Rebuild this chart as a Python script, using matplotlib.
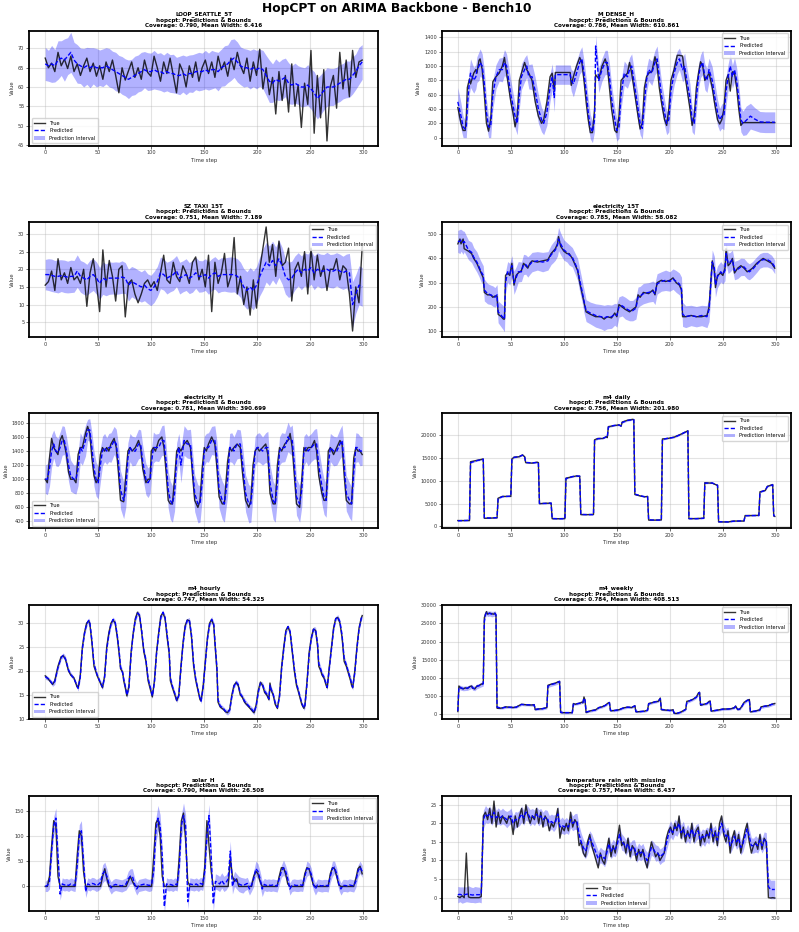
import numpy as np
import matplotlib
matplotlib.use("Agg")
import matplotlib.pyplot as plt
from matplotlib.ticker import MultipleLocator
from matplotlib.lines import Line2D
from matplotlib.patches import Patch

# ---------------- data ----------------
# LOOP_SEATTLE_5T (100 samples over steps 0..299)
loop_true = [67.5, 65.0, 66.2, 64.0, 69.0, 65.5, 67.2, 64.8, 68.0, 64.0,
             66.0, 63.0, 65.5, 67.5, 64.0, 66.2, 62.8, 65.5, 62.0, 66.5,
             64.0, 67.0, 63.0, 58.5, 65.0, 61.8, 64.2, 66.5, 62.5, 65.0,
             62.0, 67.0, 63.8, 62.8, 68.0, 65.0, 61.5, 66.5, 63.5, 67.5,
             63.0, 58.5, 66.0, 64.0, 60.0, 65.5, 62.5, 66.5, 61.5, 65.0,
             67.0, 63.5, 66.5, 62.5, 68.0, 64.5, 66.5, 62.8, 67.5, 64.5,
             69.0, 65.5, 63.5, 67.5, 61.5, 66.5, 63.0, 69.8, 59.5, 65.0,
             58.0, 62.5, 53.0, 64.0, 56.5, 63.0, 53.5, 66.0, 55.0, 60.5,
             49.5, 61.0, 55.5, 69.5, 48.0, 63.0, 52.0, 64.5, 46.0, 60.0,
             63.0, 54.5, 69.0, 59.5, 67.0, 57.5, 69.5, 62.5, 66.5, 67.0]
loop_pred = [66.0, 65.5, 66.0, 65.5, 67.0, 67.5, 67.0, 68.0, 69.0, 67.0,
             66.0, 65.5, 65.0, 65.5, 65.0, 65.5, 65.0, 65.0, 65.0, 65.5,
             65.0, 64.5, 64.0, 63.5, 63.0, 62.5, 62.0, 62.5, 63.0, 63.5,
             64.0, 64.5, 64.0, 64.0, 64.5, 64.0, 64.0, 63.5, 64.0, 63.5,
             63.5, 63.0, 63.0, 63.5, 63.0, 63.5, 63.5, 64.0, 64.0, 64.0,
             64.5, 64.0, 64.5, 64.5, 64.0, 65.0, 65.5, 66.0, 67.0, 67.5,
             66.5, 65.5, 65.0, 65.0, 64.5, 65.0, 64.5, 65.0, 64.5, 63.0,
             61.5, 61.0, 62.0, 61.5, 62.0, 62.5, 61.0, 60.5, 61.0, 60.5,
             60.0, 60.0, 60.5, 59.5, 58.5, 57.0, 58.0, 59.0, 60.0, 60.0,
             60.0, 60.5, 61.0, 61.5, 62.0, 62.0, 63.0, 64.0, 65.5, 66.5]
loop_hw = [4.3, 4.0, 4.8, 4.2, 5.0, 4.5, 5.5, 4.8, 5.2, 4.6,
           5.0, 4.6, 5.0, 4.8, 5.2, 4.7, 5.0, 4.6, 4.9, 4.7,
           5.0, 4.8, 5.0, 4.7, 4.9, 4.8, 5.0, 4.7, 5.0, 4.8,
           5.0, 4.7, 4.9, 4.8, 5.0, 4.7, 4.9, 4.8, 5.0, 4.9,
           5.0, 4.7, 5.0, 4.8, 5.0, 4.8, 4.9, 4.7, 5.0, 4.8,
           5.0, 4.8, 5.0, 4.7, 5.0, 4.8, 5.2, 4.9, 5.3, 5.0,
           5.2, 4.9, 5.0, 4.8, 5.0, 4.9, 5.0, 4.8, 5.0, 5.2,
           5.5, 5.0, 5.3, 5.0, 5.2, 5.0, 5.3, 5.0, 5.2, 5.0,
           5.2, 5.0, 5.3, 5.2, 5.5, 5.3, 5.2, 5.0, 5.0, 4.8,
           4.8, 4.6, 4.8, 4.6, 4.8, 4.7, 4.8, 4.6, 4.8, 4.5]

# M_DENSE_H
md_t = [0, 3, 5, 7, 8, 9, 11, 12, 15, 17,
        18, 20, 21, 23, 25, 27, 29, 31, 33, 36,
        39, 42, 44, 46, 48, 50, 52, 54, 56, 58,
        60, 63, 65, 67, 70, 73, 76, 79, 81, 84,
        87, 89, 91, 92, 106, 107, 109, 112, 115, 117,
        119, 121, 123, 125, 127, 129, 130, 133, 136, 139,
        141, 143, 145, 148, 150, 152, 154, 157, 160, 162,
        164, 166, 168, 170, 172, 174, 176, 178, 180, 183,
        186, 188, 190, 192, 195, 197, 199, 201, 204, 207,
        209, 212, 214, 216, 219, 221, 223, 225, 227, 229,
        231, 233, 235, 237, 240, 242, 245, 247, 249, 251,
        253, 255, 257, 259, 261, 263, 265, 267, 269, 272,
        276, 280, 285, 290, 295, 299]
md_true = [420, 200, 100, 100, 300, 700, 820, 750, 900, 950,
           900, 1080, 1100, 950, 600, 200, 90, 250, 780, 850,
           900, 1000, 1120, 900, 700, 500, 350, 150, 300, 800,
           900, 1050, 950, 900, 800, 500, 300, 200, 250, 500,
           850, 900, 650, 910, 910, 730, 850, 1000, 1120, 1050,
           800, 500, 250, 70, 70, 400, 880, 820, 1000, 1100,
           1000, 700, 400, 100, 70, 300, 800, 850, 900, 1050,
           900, 700, 500, 300, 120, 200, 700, 850, 900, 920,
           1130, 1000, 700, 500, 250, 170, 400, 800, 950, 1150,
           1150, 1140, 900, 700, 400, 170, 300, 700, 900, 1060,
           1000, 800, 850, 900, 700, 500, 250, 190, 250, 400,
           800, 880, 650, 920, 900, 700, 400, 170, 210, 210,
           210, 210, 210, 210, 210, 210]
md_pred = [500, 300, 150, 120, 150, 450, 800, 900, 800, 850,
           950, 1000, 1050, 1000, 750, 350, 150, 150, 600, 850,
           950, 950, 1050, 1000, 800, 600, 450, 300, 200, 600,
           850, 950, 1000, 850, 850, 650, 400, 250, 200, 350,
           700, 850, 560, 880, 880, 800, 750, 900, 1050, 1100,
           900, 650, 350, 150, 80, 250, 1280, 800, 950, 1050,
           1050, 850, 550, 250, 100, 150, 600, 900, 850, 950,
           1000, 800, 600, 400, 200, 130, 500, 800, 950, 900,
           1050, 1100, 850, 600, 350, 200, 250, 650, 900, 1050,
           1100, 950, 1000, 800, 550, 250, 200, 550, 850, 1000,
           1050, 850, 800, 950, 800, 600, 350, 250, 300, 300,
           650, 850, 1000, 850, 950, 800, 550, 250, 200, 240,
           300, 260, 220, 215, 215, 215]
md_hw = [200, 180, 150, 120, 150, 200, 180, 200, 180, 170,
         180, 200, 190, 170, 200, 190, 150, 150, 200, 170,
         160, 170, 180, 170, 190, 200, 180, 170, 160, 200,
         180, 170, 160, 170, 180, 190, 200, 170, 160, 180,
         190, 180, 200, 135, 135, 150, 180, 170, 160, 170,
         180, 190, 200, 170, 150, 160, 150, 170, 160, 170,
         170, 190, 200, 170, 150, 160, 200, 170, 160, 170,
         170, 180, 190, 200, 160, 150, 200, 170, 160, 170,
         170, 180, 190, 200, 180, 160, 170, 190, 170, 160,
         150, 170, 180, 190, 200, 170, 160, 190, 170, 160,
         170, 180, 170, 160, 190, 200, 180, 160, 170, 190,
         200, 180, 170, 160, 170, 180, 190, 170, 170, 200,
         180, 160, 145, 145, 145, 145]

# SZ_TAXI_15T (100 samples over steps 0..299)
sz_true = [15.5, 16.5, 19.5, 14.0, 23.0, 17.0, 19.0, 16.0, 20.5, 17.0,
           18.0, 16.0, 20.0, 9.5, 19.0, 23.0, 16.0, 8.0, 25.5, 15.0,
           22.5, 18.0, 11.0, 20.0, 21.0, 6.5, 16.0, 17.0, 13.0, 10.5,
           13.0, 16.0, 17.0, 15.0, 16.5, 14.0, 19.0, 24.0, 17.0, 16.0,
           22.0, 18.0, 16.5, 21.0, 19.0, 16.0, 22.0, 23.5, 17.0, 20.0,
           15.0, 24.0, 8.0, 22.0, 16.0, 19.0, 24.5, 15.0, 18.0, 29.0,
           13.0, 18.0, 10.0, 15.0, 7.0, 17.0, 9.0, 20.0, 26.0, 32.0,
           22.0, 27.0, 18.0, 28.0, 21.0, 22.0, 26.0, 11.0, 20.0, 22.0,
           18.0, 25.0, 13.0, 26.0, 17.0, 24.0, 18.0, 21.0, 14.0, 20.0,
           20.0, 23.0, 17.0, 21.0, 20.0, 13.0, 2.5, 15.0, 10.5, 26.5]
sz_pred = [18.5, 18.5, 18.3, 18.0, 18.0, 18.2, 18.0, 17.8, 18.0, 18.0,
           19.5, 18.0, 17.5, 17.0, 18.0, 18.5, 17.5, 16.0, 17.5, 17.0,
           17.5, 17.5, 17.5, 17.5, 17.8, 17.5, 15.5, 16.5, 16.0, 15.5,
           15.0, 15.5, 14.5, 14.0, 15.0, 16.5, 19.0, 18.5, 17.5, 18.0,
           18.5, 19.5, 17.5, 18.0, 18.5, 17.5, 18.0, 19.0, 18.0, 18.0,
           18.5, 17.5, 18.5, 19.0, 18.0, 18.5, 18.5, 18.5, 18.5, 18.5,
           18.0, 17.0, 15.0, 14.0, 15.0, 14.0, 15.5, 18.0, 20.0, 22.0,
           21.0, 22.5, 21.0, 23.0, 21.0, 18.0, 17.0, 17.5, 19.0, 20.0,
           19.0, 20.0, 19.5, 20.5, 19.0, 20.0, 19.5, 19.5, 20.0, 19.5,
           19.5, 20.0, 19.5, 19.0, 19.5, 19.0, 10.0, 13.0, 15.5, 15.0]
sz_hw = [4.3, 4.5, 4.6, 4.5, 4.7, 4.5, 4.6, 4.5, 4.6, 4.5,
         4.6, 4.5, 4.6, 4.4, 4.6, 4.5, 4.6, 4.5, 4.6, 4.5,
         4.6, 4.5, 4.6, 4.5, 4.6, 4.4, 4.5, 4.3, 4.4, 4.3,
         4.3, 4.4, 4.2, 4.3, 4.4, 4.3, 4.5, 4.4, 4.5, 4.4,
         4.5, 4.4, 4.5, 4.4, 4.5, 4.4, 4.5, 4.4, 4.5, 4.4,
         4.5, 4.6, 4.5, 4.6, 4.7, 4.8, 4.7, 4.9, 5.0, 4.9,
         5.0, 5.0, 5.2, 5.3, 5.5, 5.5, 5.3, 5.5, 5.8, 5.6,
         5.6, 5.5, 5.3, 5.3, 5.2, 5.0, 5.0, 4.8, 4.8, 4.7,
         4.8, 4.7, 4.8, 4.7, 4.8, 4.7, 4.8, 4.7, 4.8, 4.7,
         4.8, 4.7, 4.8, 4.7, 4.8, 5.5, 6.5, 5.5, 5.5, 5.5]

# electricity_15T
e15_t = [0, 2, 3, 5, 6, 10, 13, 15, 18, 20,
         22, 24, 25, 28, 31, 33, 35, 37, 38, 41,
         43, 44, 45, 47, 49, 51, 53, 55, 57, 60,
         62, 64, 66, 68, 70, 75, 80, 85, 88, 90,
         92, 94, 95, 97, 100, 103, 105, 108, 110, 113,
         115, 117, 119, 121, 125, 130, 135, 138, 141, 145,
         148, 150, 152, 155, 158, 162, 165, 168, 170, 172,
         175, 180, 184, 186, 188, 192, 196, 200, 203, 206,
         209, 211, 212, 215, 220, 225, 230, 235, 237, 239,
         240, 242, 243, 245, 248, 250, 252, 253, 255, 257,
         259, 261, 264, 267, 270, 273, 275, 278, 282, 285,
         288, 292, 296, 299]
e15_true = [460, 480, 460, 480, 440, 430, 420, 400, 380, 360,
            340, 320, 260, 250, 250, 240, 245, 245, 170, 160,
            150, 150, 330, 340, 330, 380, 290, 330, 340, 350,
            380, 370, 360, 380, 390, 385, 390, 395, 420, 430,
            440, 460, 490, 450, 430, 420, 420, 400, 380, 350,
            300, 260, 220, 180, 170, 160, 160, 150, 160, 155,
            175, 160, 210, 200, 190, 180, 190, 200, 250, 240,
            260, 255, 270, 250, 300, 310, 305, 310, 320, 300,
            290, 270, 160, 160, 165, 160, 160, 165, 200, 330,
            390, 350, 280, 330, 340, 330, 360, 440, 370, 380,
            400, 340, 360, 370, 360, 345, 350, 360, 380, 390,
            400, 390, 380, 360]
e15_pred = [470, 470, 475, 465, 470, 435, 425, 405, 385, 365,
            345, 330, 270, 255, 250, 245, 240, 250, 180, 165,
            155, 150, 300, 345, 335, 370, 300, 320, 345, 345,
            375, 375, 365, 375, 385, 390, 385, 390, 415, 425,
            435, 455, 480, 460, 435, 425, 415, 405, 385, 355,
            310, 270, 225, 185, 175, 165, 160, 155, 160, 160,
            170, 165, 200, 205, 195, 185, 185, 195, 240, 245,
            255, 260, 265, 255, 295, 305, 310, 305, 315, 305,
            295, 275, 170, 160, 165, 160, 165, 160, 190, 320,
            385, 360, 290, 325, 345, 335, 350, 420, 380, 385,
            395, 350, 355, 365, 365, 350, 345, 355, 375, 390,
            395, 395, 385, 365]
e15_hw = [45, 50, 45, 48, 42, 40, 42, 40, 42, 40,
          42, 40, 45, 42, 40, 42, 40, 42, 45, 48,
          50, 52, 45, 42, 45, 42, 48, 45, 42, 40,
          42, 40, 42, 40, 40, 38, 40, 38, 40, 42,
          42, 45, 48, 45, 42, 40, 42, 40, 42, 45,
          48, 45, 48, 45, 45, 48, 50, 52, 50, 48,
          45, 48, 42, 42, 45, 42, 42, 45, 42, 40,
          42, 40, 42, 45, 42, 40, 42, 40, 42, 45,
          45, 48, 50, 45, 42, 42, 42, 45, 50, 52,
          50, 48, 50, 45, 42, 40, 42, 45, 42, 40,
          40, 38, 38, 36, 35, 34, 33, 32, 32, 30,
          30, 30, 28, 28]

# electricity_H
eh_t = [0, 2, 4, 6, 8, 10, 12, 14, 16, 18,
        20, 22, 24, 27, 29, 31, 33, 35, 38, 40,
        42, 44, 46, 48, 50, 52, 54, 56, 58, 60,
        62, 65, 67, 69, 71, 74, 76, 78, 80, 82,
        85, 88, 90, 92, 95, 97, 99, 100, 102, 104,
        107, 110, 112, 114, 116, 118, 120, 122, 124, 126,
        128, 131, 134, 137, 139, 141, 144, 146, 148, 150,
        152, 154, 157, 160, 162, 164, 167, 169, 172, 174,
        176, 178, 181, 184, 186, 189, 192, 194, 196, 198,
        200, 202, 205, 208, 210, 212, 215, 217, 219, 221,
        223, 226, 229, 231, 233, 235, 237, 240, 242, 244,
        246, 248, 251, 254, 256, 258, 261, 263, 265, 267,
        269, 272, 275, 278, 280, 282, 284, 287, 289, 291,
        293, 295, 297, 299]
eh_true = [1000, 950, 1300, 1580, 1450, 1400, 1350, 1550, 1620, 1500,
           1350, 1100, 1000, 1000, 950, 1350, 1450, 1450, 1650, 1750,
           1650, 1300, 1050, 950, 1000, 1350, 1450, 1400, 1450, 1400,
           1500, 1580, 1450, 1100, 700, 680, 1050, 1400, 1450, 1400,
           1450, 1550, 1450, 1150, 950, 1000, 1000, 1400, 1450, 1400,
           1550, 1600, 1450, 1100, 700, 650, 650, 1000, 1400, 1450,
           1400, 1500, 1550, 1450, 1050, 700, 600, 700, 1150, 1450,
           1400, 1500, 1600, 1500, 1150, 750, 650, 650, 1250, 1450,
           1400, 1450, 1500, 1450, 1100, 700, 600, 700, 1200, 1400,
           1450, 1400, 1450, 1500, 1350, 800, 650, 650, 1200, 1450,
           1400, 1500, 1550, 1650, 1450, 1050, 650, 600, 1000, 1450,
           1400, 1450, 1450, 1550, 1400, 1050, 800, 700, 700, 1400,
           1450, 1350, 1450, 1550, 1500, 1050, 700, 650, 650, 1300,
           1450, 1400, 1400, 1350]
eh_pred = [1000, 1000, 1150, 1400, 1500, 1400, 1380, 1450, 1550, 1550,
           1400, 1200, 1050, 1000, 1000, 1150, 1450, 1400, 1550, 1700,
           1700, 1450, 1150, 1000, 950, 1200, 1400, 1450, 1400, 1450,
           1450, 1550, 1500, 1250, 850, 700, 850, 1300, 1450, 1400,
           1400, 1500, 1500, 1250, 1000, 950, 1000, 1200, 1450, 1450,
           1450, 1550, 1550, 1250, 850, 700, 650, 800, 1300, 1450,
           1200, 1550, 1500, 1500, 1150, 800, 650, 650, 950, 1400,
           1450, 1450, 1550, 1550, 1300, 850, 700, 650, 1000, 1450,
           1450, 1400, 1500, 1500, 1250, 800, 650, 650, 1000, 1400,
           1450, 1450, 1400, 1450, 1450, 950, 700, 650, 950, 1400,
           1450, 1450, 1600, 1550, 1550, 1200, 750, 650, 850, 1400,
           1450, 1400, 1450, 1500, 1500, 1200, 900, 750, 700, 1200,
           1450, 1400, 1400, 1500, 1550, 1200, 800, 700, 650, 1100,
           1450, 1450, 1400, 1400]
eh_hw = [200, 220, 250, 230, 200, 210, 200, 220, 210, 200,
         210, 230, 220, 200, 210, 240, 210, 200, 220, 150,
         160, 220, 250, 240, 230, 240, 210, 200, 190, 200,
         210, 200, 210, 250, 270, 260, 250, 220, 200, 210,
         200, 210, 200, 230, 220, 210, 200, 200, 220, 190,
         200, 210, 220, 240, 260, 270, 260, 250, 220, 200,
         250, 210, 200, 210, 240, 260, 270, 260, 240, 210,
         200, 210, 200, 210, 240, 260, 270, 260, 240, 200,
         210, 200, 210, 200, 240, 260, 270, 260, 240, 210,
         200, 210, 200, 210, 230, 260, 270, 260, 240, 200,
         210, 200, 210, 190, 220, 250, 260, 260, 240, 210,
         200, 210, 200, 210, 220, 240, 250, 250, 240, 230,
         200, 210, 200, 210, 220, 240, 250, 250, 240, 230,
         210, 200, 210, 200]

# m4_daily
md4_t = [0, 11, 12, 18, 24, 25, 31, 37, 38, 42,
         50, 51, 53, 58, 61, 63, 64, 70, 75, 76,
         77, 83, 88, 89, 95, 101, 102, 108, 112, 115,
         116, 122, 128, 129, 132, 137, 140, 141, 142, 147,
         152, 154, 155, 160, 165, 166, 167, 172, 176, 179,
         180, 186, 192, 193, 198, 204, 210, 213, 217, 218,
         225, 232, 233, 240, 245, 246, 255, 260, 270, 271,
         278, 284, 285, 290, 292, 297, 298, 299]
md4_true = [1300, 1300, 14200, 14500, 14800, 1800, 1850, 1900, 6200, 6600,
            6600, 14800, 15200, 15300, 15700, 15300, 14000, 13900, 14100, 14000,
            5000, 5100, 5100, 1700, 1700, 1750, 10600, 10900, 11100, 11000,
            2600, 2600, 2650, 19000, 19300, 19300, 19700, 19500, 21900, 22100,
            22300, 22000, 22900, 23300, 23500, 23400, 7000, 6700, 6500, 6600,
            1400, 1400, 1450, 19200, 19300, 19600, 20200, 20500, 21000, 1700,
            1750, 1800, 9600, 9500, 9000, 1000, 1000, 1200, 1200, 2400,
            2400, 2450, 7600, 7900, 8800, 9200, 2300, 2200]
md4_pred = [1250, 1350, 14000, 14450, 14750, 1900, 1850, 1950, 6100, 6550,
            6650, 14700, 15150, 15350, 15650, 15350, 14050, 13950, 14050, 14050,
            5050, 5050, 5150, 1750, 1700, 1700, 10500, 10950, 11050, 11050,
            2650, 2600, 2600, 18900, 19250, 19350, 19650, 19550, 21800, 22150,
            22250, 22050, 22800, 23250, 23450, 23450, 7100, 6750, 6550, 6550,
            1450, 1400, 1400, 19100, 19350, 19550, 20150, 20550, 20950, 1750,
            1700, 1800, 9500, 9550, 9050, 1050, 1000, 1150, 1250, 2350,
            2400, 2400, 7500, 7950, 8750, 9150, 2400, 2250]
md4_hw = [120, 110, 150, 130, 140, 130, 110, 120, 140, 120,
          110, 160, 140, 130, 150, 140, 130, 120, 130, 120,
          110, 100, 110, 120, 100, 110, 150, 130, 120, 130,
          120, 100, 110, 180, 150, 140, 150, 140, 170, 150,
          140, 150, 160, 150, 140, 150, 150, 130, 120, 130,
          120, 100, 110, 180, 150, 140, 150, 160, 150, 130,
          110, 100, 140, 130, 120, 110, 100, 110, 100, 120,
          110, 100, 140, 130, 140, 130, 120, 110]

# m4_hourly
mh_t = [0, 3, 7, 9, 12, 15, 17, 19, 22, 24,
        27, 30, 31, 33, 35, 37, 39, 41, 42, 44,
        46, 49, 52, 54, 56, 58, 60, 62, 64, 66,
        68, 70, 71, 73, 74, 76, 77, 79, 81, 83,
        85, 87, 89, 91, 93, 95, 97, 100, 101, 103,
        105, 107, 109, 111, 113, 115, 117, 118, 120, 123,
        124, 126, 128, 130, 132, 134, 136, 138, 140, 142,
        144, 146, 147, 149, 151, 153, 155, 157, 159, 160,
        162, 163, 165, 168, 170, 172, 174, 176, 178, 180,
        182, 184, 186, 188, 190, 192, 194, 196, 197, 199,
        201, 203, 205, 207, 209, 211, 212, 213, 215, 217,
        219, 221, 223, 225, 227, 229, 231, 233, 235, 237,
        239, 242, 244, 245, 247, 249, 251, 253, 255, 257,
        258, 260, 261, 263, 265, 266, 268, 270, 272, 274,
        276, 278, 280, 282, 284, 286, 288, 289, 290, 292,
        294, 296, 298, 299]
mh_true = [19, 18.3, 17.2, 18, 21, 23, 23.2, 22.5, 20, 19.2,
           18.6, 16.7, 16.5, 19, 25, 28, 30, 30.5, 30, 26,
           21, 19, 17.5, 16.5, 19, 25, 28, 30, 30.7, 30,
           27, 23, 20.5, 19.8, 18, 16, 14.8, 17, 24, 28,
           31, 32.3, 31.5, 28, 24, 22, 18, 15.5, 14.6, 18,
           24, 28, 31.5, 32.2, 31, 27, 23.5, 18, 16.5, 14.5,
           13.8, 15, 21, 26, 29.5, 30.7, 30.5, 27, 21, 18,
           16, 14, 13.8, 17, 22, 27, 30, 30.8, 29.5, 26,
           20, 13.5, 12.5, 12, 11.5, 11.3, 12, 15, 17, 17.6,
           17, 15, 14.5, 13.5, 13, 12.5, 12, 11.5, 11.3, 13,
           16, 17.7, 17, 15.5, 15, 14, 17.5, 16, 15, 13,
           12.2, 15, 21, 25, 28.5, 29.3, 28, 24, 20, 17,
           15.5, 13, 12.2, 13, 18, 24, 27, 28.8, 28.5, 25,
           21, 20, 19.2, 18.5, 17, 16.5, 21, 25, 29, 31,
           31.2, 30, 27, 22, 21, 19.5, 18, 17, 16.5, 20,
           25, 29, 31, 31.6]
mh_pred = [18.8, 18.4, 17.3, 17.8, 20.7, 22.8, 23.3, 22.6, 20.2, 19.3,
           18.5, 16.9, 16.4, 18.6, 24.5, 27.8, 29.8, 30.6, 30.2, 26.5,
           21.5, 19.2, 17.6, 16.7, 18.7, 24.5, 27.6, 29.8, 30.8, 30.2,
           27.4, 23.5, 20.9, 19.6, 18.4, 16.3, 15.0, 16.6, 23.5, 27.8,
           30.7, 32.1, 31.7, 28.4, 24.4, 22.3, 18.5, 15.8, 14.8, 17.6,
           23.6, 27.7, 31.2, 32.3, 31.3, 27.5, 23.9, 18.6, 16.8, 14.8,
           13.9, 14.8, 20.5, 25.6, 29.2, 30.6, 30.7, 27.5, 21.6, 18.3,
           16.3, 14.3, 13.7, 16.6, 21.6, 26.6, 29.7, 30.8, 29.8, 26.5,
           20.6, 14.0, 12.7, 12.2, 11.6, 11.4, 11.8, 14.6, 16.8, 17.7,
           17.2, 15.3, 14.6, 13.7, 13.2, 12.7, 12.2, 11.7, 11.4, 12.7,
           15.6, 17.5, 17.2, 15.8, 15.2, 14.2, 17.0, 16.3, 15.2, 13.3,
           12.4, 14.6, 20.5, 24.6, 28.2, 29.3, 28.3, 24.5, 20.5, 17.4,
           15.8, 13.3, 12.3, 12.8, 17.5, 23.6, 26.8, 28.7, 28.7, 25.5,
           21.6, 20.3, 19.5, 18.7, 17.3, 16.6, 20.5, 24.6, 28.7, 30.9,
           31.3, 30.3, 27.5, 22.6, 21.3, 19.8, 18.3, 17.3, 16.6, 19.6,
           24.6, 28.7, 30.9, 31.5]
mh_hw = [0.5, 0.4, 0.5, 0.6, 0.5, 0.4, 0.5, 0.6, 0.5, 0.5,
         0.4, 0.5, 0.6, 0.5, 0.4, 0.5, 0.6, 0.5, 0.4, 0.5,
         0.5, 0.4, 0.5, 0.6, 0.5, 0.4, 0.5, 0.6, 0.5, 0.5,
         0.6, 0.5, 0.7, 0.6, 0.5, 0.5, 0.6, 0.5, 0.4, 0.5,
         0.5, 0.6, 0.5, 0.4, 0.5, 0.6, 0.5, 0.5, 0.6, 0.5,
         0.4, 0.5, 0.6, 0.5, 0.4, 0.5, 0.6, 0.6, 0.5, 0.5,
         0.5, 0.4, 0.5, 0.6, 0.5, 0.4, 0.5, 0.6, 0.5, 0.5,
         0.5, 0.4, 0.5, 0.6, 0.5, 0.4, 0.5, 0.6, 0.5, 0.6,
         0.6, 0.5, 0.5, 0.4, 0.5, 0.6, 0.5, 0.4, 0.5, 0.5,
         0.5, 0.4, 0.5, 0.6, 0.5, 0.4, 0.5, 0.6, 0.5, 0.5,
         0.5, 0.4, 0.5, 0.6, 0.5, 0.5, 0.7, 0.6, 0.5, 0.5,
         0.5, 0.4, 0.5, 0.6, 0.5, 0.4, 0.5, 0.6, 0.5, 0.5,
         0.5, 0.4, 0.5, 0.6, 0.5, 0.4, 0.5, 0.6, 0.5, 0.6,
         0.7, 0.6, 0.6, 0.5, 0.6, 0.6, 0.5, 0.6, 0.5, 0.5,
         0.5, 0.4, 0.5, 0.6, 0.6, 0.6, 0.6, 0.6, 0.6, 0.5,
         0.5, 0.4, 0.5, 0.5]

# m4_weekly
mw_t = [0, 1, 3, 5, 7, 9, 11, 13, 14, 16,
        18, 20, 22, 24, 25, 26, 27, 28, 30, 32,
        34, 35, 36, 37, 40, 42, 45, 48, 52, 55,
        58, 60, 63, 66, 70, 72, 73, 76, 80, 84,
        85, 88, 92, 95, 96, 97, 100, 105, 108, 109,
        111, 113, 115, 117, 118, 119, 120, 121, 125, 130,
        133, 136, 139, 142, 143, 144, 148, 152, 156, 160,
        164, 167, 168, 172, 176, 179, 180, 183, 186, 189,
        191, 192, 196, 200, 203, 204, 207, 210, 213, 215,
        216, 219, 222, 225, 227, 228, 229, 232, 235, 237,
        238, 239, 243, 247, 250, 255, 258, 261, 262, 264,
        266, 268, 270, 273, 275, 276, 280, 285, 286, 290,
        293, 296, 299]
mw_true = [800, 7800, 7200, 7000, 7300, 7100, 7600, 7800, 7200, 7000,
           7800, 7900, 8300, 8500, 26500, 27500, 28200, 27500, 27800, 27600,
           27500, 27800, 27200, 1700, 1700, 1800, 2100, 2000, 1900, 2000,
           2500, 2800, 2700, 2600, 2600, 2700, 1300, 1500, 1600, 1900,
           8000, 8300, 8600, 9000, 9100, 500, 500, 500, 500, 3000,
           2800, 3000, 3100, 3400, 3200, 4800, 3800, 500, 1000, 1300,
           1900, 2100, 2500, 3200, 3300, 1000, 1100, 1300, 1800, 2000,
           1900, 2400, 700, 800, 900, 1200, 3000, 3200, 3500, 3600,
           4500, 1300, 1200, 1100, 1300, 300, 300, 600, 1100, 1400,
           3600, 3800, 4200, 4800, 5900, 6100, 2500, 2800, 3000, 3600,
           3700, 900, 1100, 1300, 1500, 1500, 1600, 1900, 2300, 1300,
           1500, 2300, 3300, 3900, 4100, 700, 900, 1300, 2100, 2300,
           2400, 2800, 3000]
mw_pred = [900, 7500, 7300, 7100, 7200, 7200, 7500, 7700, 7300, 7100,
           7700, 7900, 8200, 8400, 25500, 27300, 27900, 27600, 27700, 27500,
           27600, 27700, 27300, 2000, 1800, 1800, 2000, 2000, 1950, 2000,
           2450, 2750, 2700, 2650, 2600, 2650, 1400, 1500, 1600, 1850,
           7800, 8200, 8500, 8900, 9000, 600, 500, 500, 500, 2800,
           2900, 2950, 3100, 3300, 3250, 4500, 3900, 700, 950, 1250,
           1850, 2100, 2450, 3100, 3250, 1100, 1100, 1300, 1750, 2000,
           1950, 2350, 800, 800, 900, 1150, 2900, 3200, 3450, 3600,
           4300, 1400, 1250, 1100, 1250, 400, 350, 600, 1050, 1400,
           3400, 3800, 4150, 4750, 5700, 6000, 2700, 2800, 3000, 3500,
           3700, 1000, 1100, 1300, 1450, 1500, 1600, 1850, 2250, 1400,
           1500, 2250, 3200, 3850, 4050, 800, 900, 1250, 2000, 2300,
           2400, 2750, 3000]
mw_hw = [300, 600, 650, 600, 650, 600, 650, 600, 650, 600,
         650, 600, 650, 600, 700, 750, 700, 750, 700, 750,
         700, 750, 700, 400, 350, 300, 350, 300, 350, 300,
         350, 300, 350, 300, 350, 300, 350, 300, 350, 300,
         450, 500, 450, 500, 450, 350, 300, 300, 300, 350,
         350, 300, 350, 300, 350, 400, 350, 300, 300, 300,
         300, 350, 300, 350, 300, 300, 350, 300, 300, 350,
         300, 350, 300, 300, 300, 300, 350, 300, 350, 300,
         400, 300, 300, 300, 300, 300, 300, 300, 300, 300,
         350, 400, 350, 400, 450, 450, 350, 300, 350, 300,
         350, 300, 300, 300, 300, 300, 300, 300, 350, 300,
         300, 350, 400, 350, 400, 300, 300, 300, 350, 400,
         400, 400, 400]

# solar_H (150 samples over steps 0..299)
sol_true = [0, 0, 20, 80, 130, 120, 20, 0, 0, 0,
            0, 0, 0, 0, 0, 60, 110, 100, 30, 0,
            0, 0, 0, 0, 0, 0, 0, 20, 35, 15,
            0, 0, 0, 0, 0, 0, 0, 0, 0, 10,
            20, 10, 2, 0, 0, 0, 0, 0, 0, 0,
            0, 60, 125, 133, 100, 20, 0, 0, 0, 0,
            0, 0, 0, 60, 130, 145, 90, 10, 0, 0,
            0, 0, 0, 0, 0, 40, 130, 80, 30, 0,
            0, 0, 0, 0, 0, 0, 0, 55, 20, 10,
            15, 0, 0, 0, 0, 0, 0, 0, 20, 30,
            25, 10, 0, 0, 0, 0, 0, 0, 0, 0,
            20, 37, 37, 25, 5, 0, 0, 0, 0, 0,
            0, 0, 25, 37, 35, 20, 3, 0, 0, 0,
            0, 0, 0, 0, 25, 37, 35, 20, 3, 0,
            0, 0, 0, 0, 0, 0, 15, 35, 40, 25]
sol_pred = [0, 2, 10, 70, 120, 135, 60, -15, 5, 3,
            4, 2, 5, 3, 2, 40, 100, 110, 50, -10,
            5, 3, 6, 5, 2, 4, 8, 25, 30, 20,
            5, -3, 2, 4, 3, 2, 1, 3, 5, 15,
            20, 20, 5, -5, 2, 3, 4, 5, 3, 2,
            4, 30, 110, 135, 120, 60, -40, 5, 3, 4,
            2, 5, 3, 40, 120, 140, 120, -30, 5, 4,
            3, 5, 2, 6, 4, 30, 100, 140, 60, -35,
            10, 8, 5, 12, 5, 8, 15, 70, 0, 15,
            10, 5, 3, 2, 4, 6, -5, 3, 15, 35,
            30, 15, -5, 4, 2, 3, 2, 3, 2, 1,
            15, 30, 37, 30, 15, -5, 2, 3, 2, 2,
            3, 2, 20, 35, 35, 25, 5, -5, 3, 2,
            1, 2, 2, 1, 20, 35, 38, 25, 5, -5,
            2, 2, 1, 3, 2, 1, 10, 30, 38, 30]
sol_hw = [10, 12, 15, 18, 18, 20, 20, 12, 12, 12,
          12, 12, 12, 12, 12, 20, 22, 20, 18, 12,
          12, 12, 12, 12, 12, 12, 12, 18, 18, 15,
          12, 12, 12, 12, 12, 12, 12, 12, 12, 15,
          15, 15, 12, 12, 12, 12, 12, 12, 12, 12,
          12, 20, 25, 25, 22, 20, 15, 12, 12, 12,
          12, 12, 12, 20, 22, 25, 22, 15, 12, 12,
          12, 12, 12, 12, 12, 20, 22, 22, 20, 15,
          15, 15, 15, 15, 15, 15, 15, 20, 15, 15,
          15, 15, 15, 15, 12, 12, 12, 12, 15, 15,
          15, 15, 15, 12, 12, 12, 12, 12, 12, 12,
          12, 12, 15, 12, 12, 12, 12, 12, 12, 12,
          12, 12, 12, 15, 12, 12, 12, 12, 12, 12,
          12, 12, 12, 12, 12, 15, 12, 12, 12, 12,
          12, 12, 12, 12, 12, 12, 12, 12, 12, 12]

# temperature_rain_with_missing (150 samples over steps 0..299)
tr_true = [0.3, 0, 0.5, 0, 12, 0.2, 0, 0, 0, 0,
           0, 0.3, 22, 23, 21, 24, 20, 26, 19, 23,
           20, 22, 21, 20, 22, 21, 17, 22, 19, 22,
           24, 20, 25, 22, 20, 22, 21, 24, 20, 23,
           19, 22, 21, 18, 20, 19, 21, 24, 16, 19,
           18, 20, 18, 23, 19, 21, 20, 14, 15, 12,
           11, 15, 17, 14, 12, 10, 8, 12, 10, 9,
           13, 16, 11, 14, 12, 16, 19.5, 14, 15, 12,
           16, 11, 14, 13, 10, 13, 11, 13, 10, 8,
           12, 15, 13, 11, 12, 10, 11, 12, 16, 18,
           19, 17, 20, 18, 22, 16, 19, 15, 18, 16,
           20, 15, 18, 19, 14, 17, 15, 18, 16, 20,
           15, 18, 14, 20, 22, 17, 15, 18, 12, 16,
           18, 14, 17, 12, 15, 18, 20, 15, 12, 14,
           15, 13, 17, 13, 16, 15, 0, -0.1, 0, -0.1]
tr_pred = [0.8, 0.9, 0.7, 0.8, 0.9, 1.0, 0.8, 0.7, 0.8, 0.8,
           0.8, 0.8, 21, 22.5, 22, 22.5, 21.5, 23, 21.5, 22,
           21.5, 22, 21.5, 21, 21.5, 22, 20, 21, 21, 21.5,
           22.5, 21.5, 23, 22.5, 21.5, 22, 21.5, 22.5, 21.5, 22,
           21, 21.5, 21.5, 20, 20.5, 20, 20.5, 22.5, 19, 19.5,
           19, 19.5, 19, 21, 20, 20.5, 20.5, 17, 15, 13.5,
           12.5, 14, 16, 15, 13.5, 12, 10.5, 11.5, 11, 10.5,
           12, 14.5, 12.5, 13.5, 13, 14.5, 17, 15, 14.5, 13.5,
           14.5, 12.5, 13.5, 13.5, 11.5, 12.5, 12, 12.5, 11, 10,
           11.5, 13.5, 13, 12, 12, 11, 11.5, 12, 14.5, 17,
           18.5, 17.5, 19, 18.5, 20, 17.5, 18.5, 16.5, 17.5, 16.5,
           18.5, 16.5, 17.5, 18, 15.5, 16.5, 16, 17, 16.5, 18.5,
           16.5, 17.5, 15.5, 18.5, 20, 18, 16.5, 17, 14, 15,
           16.5, 15, 16, 13.5, 14.5, 16.5, 18.5, 16.5, 14, 14,
           14.5, 14, 15.5, 14, 15.5, 15.5, 3, 2.2, 2.2, 2.2]
tr_hw = [2.2, 2.0, 2.2, 2.1, 2.0, 2.2, 2.1, 2.0, 2.2, 2.1,
         2.0, 2.2, 2.5, 2.3, 2.0, 2.2, 2.0, 2.3, 2.0, 2.2,
         2.0, 2.1, 2.0, 2.2, 2.0, 2.1, 2.0, 2.2, 2.0, 2.1,
         2.2, 2.0, 2.1, 2.0, 2.2, 2.0, 2.1, 2.0, 2.2, 2.0,
         2.0, 2.2, 2.0, 2.1, 2.0, 2.2, 2.0, 2.1, 2.0, 2.2,
         2.0, 2.1, 2.0, 2.2, 2.0, 2.1, 2.2, 2.5, 2.3, 2.2,
         2.0, 2.2, 2.0, 2.1, 2.0, 2.2, 2.0, 2.1, 2.0, 2.2,
         2.0, 2.1, 2.0, 2.2, 2.0, 2.1, 2.0, 2.2, 2.0, 2.1,
         2.0, 2.2, 2.0, 2.1, 2.0, 2.2, 2.0, 2.1, 2.0, 2.2,
         2.0, 2.1, 2.0, 2.2, 2.0, 2.1, 2.0, 2.2, 2.0, 2.3,
         2.2, 2.0, 2.1, 2.0, 2.2, 2.0, 2.1, 2.0, 2.2, 2.0,
         2.1, 2.0, 2.2, 2.0, 2.1, 2.0, 2.2, 2.0, 2.1, 2.0,
         2.2, 2.0, 2.1, 2.0, 2.2, 2.0, 2.1, 2.0, 2.2, 2.0,
         2.1, 2.0, 2.2, 2.0, 2.1, 2.0, 2.2, 2.0, 2.1, 2.0,
         2.2, 2.0, 2.1, 2.0, 2.2, 2.0, 2.5, 2.5, 2.5, 2.5]

names = ["LOOP_SEATTLE_5T", "M_DENSE_H", "SZ_TAXI_15T", "electricity_15T",
         "electricity_H", "m4_daily", "m4_hourly", "m4_weekly",
         "solar_H", "temperature_rain_with_missing"]
coverage = [0.790, 0.786, 0.751, 0.785, 0.781, 0.756, 0.747, 0.784, 0.790, 0.757]
mean_width = [6.416, 610.861, 7.189, 58.082, 390.699, 201.980, 54.325, 408.513, 26.508, 6.437]

# ---------------- plotting ----------------
grid100 = np.linspace(0, 299, 100)
grid150 = np.linspace(0, 299, 150)

panels = [
    (grid100, loop_true, loop_pred, loop_hw, "lower left", (44.8, 74.6), 5),
    (md_t, md_true, md_pred, md_hw, "upper right", (-111, 1493), 200),
    (grid100, sz_true, sz_pred, sz_hw, "upper right", (0.85, 33.4), 5),
    (e15_t, e15_true, e15_pred, e15_hw, "upper right", (77, 550), 100),
    (eh_t, eh_true, eh_pred, eh_hw, "lower left", (306, 1936), 200),
    (md4_t, md4_true, md4_pred, md4_hw, "upper right", (-360, 24820), 5000),
    (mh_t, mh_true, mh_pred, mh_hw, "lower left", (9.9, 33.9), 5),
    (mw_t, mw_true, mw_pred, mw_hw, "upper right", (-1349, 30126), 5000),
    (grid150, sol_true, sol_pred, sol_hw, "upper right", (-47.8, 179), 50),
    (grid150, tr_true, tr_pred, tr_hw, "lower center", (-3.5, 27.4), 5),
]

plt.rcParams['font.family'] = ['DejaVu Sans']
fig, axes = plt.subplots(5, 2, figsize=(7.99, 9.32), dpi=100)
fig.subplots_adjust(left=0.0367, right=0.9896, top=0.967, bottom=0.0229,
                    wspace=0.183, hspace=0.666)

for i, ax in enumerate(axes.flat):
    x, yt, yp, hw, loc, ylim, ystep = panels[i]
    x = np.asarray(x, float)
    yt = np.asarray(yt, float)
    yp = np.asarray(yp, float)
    hw = np.asarray(hw, float)
    ax.fill_between(x, yp - hw, yp + hw, color='blue', alpha=0.3, linewidth=0,
                    zorder=1)
    ax.plot(x, yt, color='black', alpha=0.8, lw=1.0, zorder=2)
    ax.plot(x, yp, color='blue', ls='--', lw=1.0, dashes=(3, 1.5), zorder=3)
    ax.set_xlim(-15, 314)
    ax.set_ylim(*ylim)
    ax.xaxis.set_major_locator(MultipleLocator(50))
    ax.yaxis.set_major_locator(MultipleLocator(ystep))
    ax.grid(True, color='#b0b0b0', alpha=0.35, lw=0.8)
    ax.set_axisbelow(True)
    for s in ax.spines.values():
        s.set_linewidth(1.3)
        s.set_color('black')
    ax.tick_params(labelsize=3.6, length=2, width=0.5, pad=1.5,
                   colors='#333333')
    ax.set_xlabel("Time step", fontsize=3.8, labelpad=1.5, color='#333333')
    ax.set_ylabel("Value", fontsize=3.8, labelpad=2, color='#333333')
    ax.set_title(f"{names[i]}\nhopcpt: Predictions & Bounds\n"
                 f"Coverage: {coverage[i]:.3f}, Mean Width: {mean_width[i]:.3f}",
                 fontsize=4.1, fontweight='bold', pad=2.5, linespacing=1.1)
    handles = [Line2D([], [], color='black', alpha=0.8, lw=1.0),
               Line2D([], [], color='blue', ls='--', lw=1.0, dashes=(3, 1.5)),
               Patch(facecolor='blue', alpha=0.3, linewidth=0)]
    ax.legend(handles, ["True", "Predicted", "Prediction Interval"], loc=loc,
              fontsize=3.6, framealpha=0.8, borderpad=0.5, handlelength=2.2,
              labelspacing=0.5, edgecolor='#cccccc', fancybox=True)

fig.suptitle("HopCPT on ARIMA Backbone - Bench10", fontsize=8.8,
             fontweight='bold', x=0.496, y=0.998, va='top')

fig.savefig("out.png", dpi=100)
